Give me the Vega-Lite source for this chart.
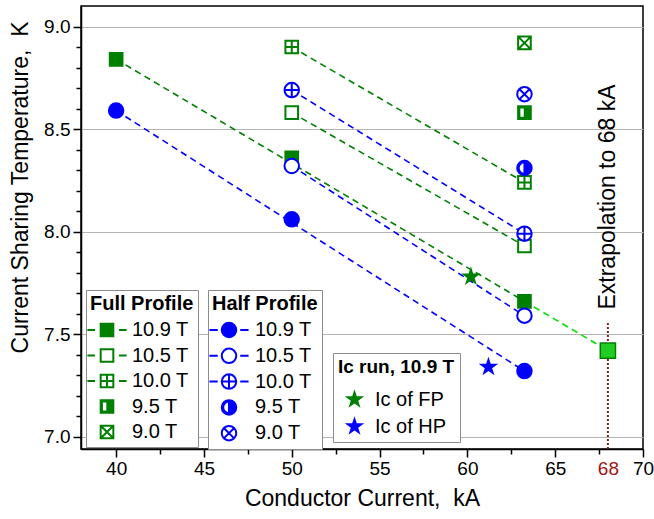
{
  "$schema": "https://vega.github.io/schema/vega-lite/v6.json",
  "width": 562,
  "height": 443,
  "autosize": {"type": "none"},
  "padding": {"left": 81, "top": 6, "right": 11, "bottom": 70},
  "config": {
    "font": "Liberation Sans",
    "view": {"stroke": "black", "strokeWidth": 1.5},
    "axis": {"labelFont": "Liberation Sans", "titleFont": "Liberation Sans", "labelColor": "black", "titleColor": "black", "titleFontWeight": "normal"},
    "legend": {"labelFont": "Liberation Sans", "titleFont": "Liberation Sans"}
  },
  "datasets": {
    "pts": [
      {"I": 40, "T": 8.84, "prof": "FP", "B": "10.9 T"},
      {"I": 50, "T": 8.36, "prof": "FP", "B": "10.9 T"},
      {"I": 63.25, "T": 7.66, "prof": "FP", "B": "10.9 T"},
      {"I": 50, "T": 8.58, "prof": "FP", "B": "10.5 T"},
      {"I": 63.25, "T": 7.93, "prof": "FP", "B": "10.5 T"},
      {"I": 50, "T": 8.9, "prof": "FP", "B": "10.0 T"},
      {"I": 63.25, "T": 8.24, "prof": "FP", "B": "10.0 T"},
      {"I": 63.25, "T": 8.58, "prof": "FP", "B": "9.5 T"},
      {"I": 63.25, "T": 8.92, "prof": "FP", "B": "9.0 T"},
      {"I": 40, "T": 8.59, "prof": "HP", "B": "10.9 T"},
      {"I": 50, "T": 8.06, "prof": "HP", "B": "10.9 T"},
      {"I": 63.25, "T": 7.32, "prof": "HP", "B": "10.9 T"},
      {"I": 50, "T": 8.32, "prof": "HP", "B": "10.5 T"},
      {"I": 63.25, "T": 7.59, "prof": "HP", "B": "10.5 T"},
      {"I": 50, "T": 8.69, "prof": "HP", "B": "10.0 T"},
      {"I": 63.25, "T": 7.99, "prof": "HP", "B": "10.0 T"},
      {"I": 63.25, "T": 8.31, "prof": "HP", "B": "9.5 T"},
      {"I": 63.25, "T": 8.67, "prof": "HP", "B": "9.0 T"}
    ],
    "fits": [
      {"I": 40, "T": 8.84, "line": "FP 10.9", "grp": "FP"},
      {"I": 63.25, "T": 7.66, "line": "FP 10.9", "grp": "FP"},
      {"I": 63.25, "T": 7.66, "line": "Extrapolation", "grp": "EX"},
      {"I": 68, "T": 7.42, "line": "Extrapolation", "grp": "EX"},
      {"I": 50, "T": 8.58, "line": "FP 10.5", "grp": "FP"},
      {"I": 63.25, "T": 7.93, "line": "FP 10.5", "grp": "FP"},
      {"I": 50, "T": 8.9, "line": "FP 10.0", "grp": "FP"},
      {"I": 63.25, "T": 8.24, "line": "FP 10.0", "grp": "FP"},
      {"I": 40, "T": 8.59, "line": "HP 10.9", "grp": "HP"},
      {"I": 63.25, "T": 7.32, "line": "HP 10.9", "grp": "HP"},
      {"I": 50, "T": 8.32, "line": "HP 10.5", "grp": "HP"},
      {"I": 63.25, "T": 7.59, "line": "HP 10.5", "grp": "HP"},
      {"I": 50, "T": 8.69, "line": "HP 10.0", "grp": "HP"},
      {"I": 63.25, "T": 7.99, "line": "HP 10.0", "grp": "HP"}
    ],
    "extrap": [{"I": 68, "T": 7.42}],
    "ic": [
      {"I": 60.2, "T": 7.78, "run": "Ic of FP"},
      {"I": 61.2, "T": 7.34, "run": "Ic of HP"}
    ],
    "marker": [{"I": 68, "T": 6.94, "Thi": 7.56, "Ttext": 7.62, "label": "Extrapolation to 68 kA"}]
  },
  "encoding": {
    "x": {"field": "I", "type": "quantitative", "scale": {"domain": [38, 70], "nice": false, "zero": false},
      "axis": {
        "orient": "bottom",
        "values": [40, 42.5, 45, 47.5, 50, 52.5, 55, 57.5, 60, 62.5, 65, 67.5, 68, 70],
        "format": "d",
        "labelExpr": "(datum.value % 5 == 0 || datum.value == 68) ? datum.label : ''",
        "labelColor": {"condition": {"test": "datum.value == 68", "value": "#a01414"}, "value": "black"},
        "tickOpacity": {"condition": {"test": "datum.value == 68", "value": 0}, "value": 1},
        "tickSize": {"condition": {"test": "datum && (datum.value % 5 == 0 || datum.value == 68)", "value": 8}, "value": 5},
        "tickColor": "black", "tickWidth": 1.5, "domainColor": "black", "domainWidth": 1.5,
        "grid": false, "labelFlush": false, "labelOverlap": false,
        "labelFontSize": 19, "labelPadding": 2,
        "title": "Conductor Current,\u00a0 kA", "titleFontSize": 23, "titlePadding": 9
      }},
    "y": {"field": "T", "type": "quantitative", "scale": {"domain": [6.94, 9.1], "nice": false, "zero": false},
      "axis": {
        "orient": "left",
        "values": [7, 7.1, 7.2, 7.3, 7.4, 7.5, 7.6, 7.7, 7.8, 7.9, 8, 8.1, 8.2, 8.3, 8.4, 8.5, 8.6, 8.7, 8.8, 8.9, 9],
        "format": ".1f",
        "labelExpr": "abs(datum.value*2 - round(datum.value*2)) < 0.01 ? datum.label : ''",
        "tickSize": {"condition": {"test": "datum && abs(datum.value*2 - round(datum.value*2)) < 0.01", "value": 8}, "value": 5},
        "tickColor": "black", "tickWidth": 1.5, "domainColor": "black", "domainWidth": 1.5,
        "grid": true, "gridColor": "#b4b4b4", "gridWidth": 1.2,
        "gridOpacity": {"condition": {"test": "abs(datum.value*2 - round(datum.value*2)) < 0.01", "value": 1}, "value": 0},
        "labelFontSize": 19, "labelPadding": 3, "labelOverlap": false,
        "title": "Current Sharing Temperature,\u00a0 K", "titleFontSize": 23,
        "titleX": -49, "titleY": 181, "titleAngle": 270, "titleBaseline": "bottom", "titleAlign": "center"
      }}
  },
  "layer": [
    {
      "data": {"name": "fits"},
      "mark": {"type": "line", "strokeDash": [6.5, 4.5], "strokeWidth": 1.6},
      "encoding": {
        "detail": {"field": "line", "type": "nominal"},
        "color": {"field": "grp", "type": "nominal", "scale": {"domain": ["FP", "HP", "EX"], "range": ["#008000", "#0000ff", "#00e000"]}, "legend": null}
      }
    },
    {
      "data": {"name": "marker"},
      "mark": {"type": "rule", "color": "#8b1a1a", "strokeDash": [2, 2], "strokeWidth": 2},
      "encoding": {
        "y2": {"field": "Thi"}
      }
    },
    {
      "data": {"name": "marker"},
      "mark": {"type": "text", "angle": 270, "align": "left", "baseline": "middle", "fontSize": 23, "color": "black"},
      "encoding": {
        "y": {"field": "Ttext", "type": "quantitative"},
        "text": {"field": "label"}
      }
    },
    {
      "data": {"name": "pts"},
      "transform": [{"filter": "datum.prof == 'FP'"}],
      "mark": {"type": "point", "stroke": "#008000", "strokeWidth": 2, "size": 160, "opacity": 1},
      "encoding": {
        "shape": {"field": "B", "type": "nominal", "legend": null, "scale": {
          "domain": ["10.9 T", "10.5 T", "10.0 T", "9.5 T", "9.0 T"],
          "range": [
            "M-1,-1H1V1H-1Z",
            "M-1,-1H1V1H-1Z",
            "M-1,-1H1V1H-1Z M0,-1V1 M-1,0H1",
            "M-1,-1H1V1H-1Z M-0.8,-0.8V0.8H0.05V-0.8Z",
            "M-1,-1H1V1H-1Z M-1,-1L1,1 M-1,1L1,-1"
          ]}},
        "fill": {"field": "B", "type": "nominal", "legend": null, "scale": {
          "domain": ["10.9 T", "10.5 T", "10.0 T", "9.5 T", "9.0 T"],
          "range": ["#008000", "white", "white", "#008000", "white"]}}
      }
    },
    {
      "data": {"name": "pts"},
      "transform": [{"filter": "datum.prof == 'HP'"}],
      "mark": {"type": "point", "stroke": "#0000ff", "strokeWidth": 2, "size": 210, "opacity": 1},
      "encoding": {
        "shape": {"field": "B", "type": "nominal", "legend": null, "scale": {
          "domain": ["10.9 T", "10.5 T", "10.0 T", "9.5 T", "9.0 T"],
          "range": [
            "M0,-1A1,1 0 0,1 0,1A1,1 0 0,1 0,-1Z",
            "M0,-1A1,1 0 0,1 0,1A1,1 0 0,1 0,-1Z",
            "M0,-1A1,1 0 0,1 0,1A1,1 0 0,1 0,-1Z M0,-1V1 M-1,0H1",
            "M0,-1A1,1 0 0,1 0,1A1,1 0 0,1 0,-1Z M0,-0.8A0.8,0.8 0 0,0 0,0.8Z",
            "M0,-1A1,1 0 0,1 0,1A1,1 0 0,1 0,-1Z M-0.71,-0.71L0.71,0.71 M-0.71,0.71L0.71,-0.71"
          ]}},
        "fill": {"field": "B", "type": "nominal", "legend": null, "scale": {
          "domain": ["10.9 T", "10.5 T", "10.0 T", "9.5 T", "9.0 T"],
          "range": ["#0000ff", "white", "white", "#0000ff", "white"]}}
      }
    },
    {
      "data": {"name": "extrap"},
      "mark": {"type": "point", "shape": "M-1,-1H1V1H-1Z", "size": 230, "fill": "#22cc22", "stroke": "#008000", "strokeWidth": 1.5, "opacity": 1}
    },
    {
      "data": {"name": "ic"},
      "mark": {"type": "point", "filled": true, "size": 420, "opacity": 1, "shape": "M0,-1L0.225,-0.309L0.951,-0.309L0.363,0.118L0.588,0.809L0,0.382L-0.588,0.809L-0.363,0.118L-0.951,-0.309L-0.225,-0.309Z"},
      "encoding": {
        "fill": {"field": "run", "type": "nominal",
          "scale": {"domain": ["Ic of FP", "Ic of HP"], "range": ["#008000", "#0000ff"]},
          "legend": {
            "title": "Ic run, 10.9 T", "orient": "none", "legendX": 252, "legendY": 347,
            "padding": 5, "fillColor": "white", "strokeColor": "#8c8c8c",
            "titleFontSize": 19, "titleFontWeight": "bold", "titleColor": "black", "titlePadding": 12,
            "labelFontSize": 20, "labelColor": "black",
            "symbolType": "M0,-1L0.225,-0.309L0.951,-0.309L0.363,0.118L0.588,0.809L0,0.382L-0.588,0.809L-0.363,0.118L-0.951,-0.309L-0.225,-0.309Z",
            "symbolSize": 420, "symbolStrokeWidth": 0, "symbolOffset": 6, "labelOffset": 10, "rowPadding": 6
          }}
      }
    },
    {
      "data": {"name": "pts"},
      "transform": [{"filter": "false"}],
      "mark": {"type": "point", "stroke": "#008000", "strokeWidth": 2, "size": 160, "opacity": 1},
      "encoding": {
        "fill": {"field": "B", "type": "nominal",
          "scale": {"domain": ["10.9 T", "10.5 T", "10.0 T", "9.5 T", "9.0 T"], "range": ["#008000", "white", "white", "#008000", "white"]},
          "legend": {
            "title": "Full Profile", "orient": "none", "legendX": 5, "legendY": 284,
            "padding": 4, "fillColor": "white", "strokeColor": "#8c8c8c",
            "titleFontSize": 20, "titleFontWeight": "bold", "titleColor": "black", "titlePadding": 6,
            "labelFontSize": 20, "labelColor": "black",
            "symbolSize": 160, "symbolStrokeWidth": 2, "symbolFillColor": "white", "symbolStrokeColor": "#008000",
            "symbolOffset": 7, "labelOffset": 15, "rowPadding": 3.5
          }},
        "shape": {"field": "B", "type": "nominal",
          "scale": {"domain": ["10.9 T", "10.5 T", "10.0 T", "9.5 T", "9.0 T"],
            "range": [
              "M-1,-1H1V1H-1Z M-3.1,0H-1.9 M1.9,0H3.1",
              "M-1,-1H1V1H-1Z M-3.1,0H-1.9 M1.9,0H3.1",
              "M-1,-1H1V1H-1Z M0,-1V1 M-1,0H1 M-3.1,0H-1.9 M1.9,0H3.1",
              "M-1,-1H1V1H-1Z M-0.8,-0.8V0.8H0.05V-0.8Z",
              "M-1,-1H1V1H-1Z M-1,-1L1,1 M-1,1L1,-1"
            ]},
          "legend": {
            "title": "Full Profile", "orient": "none", "legendX": 5, "legendY": 284,
            "padding": 4, "fillColor": "white", "strokeColor": "#8c8c8c",
            "titleFontSize": 20, "titleFontWeight": "bold", "titleColor": "black", "titlePadding": 6,
            "labelFontSize": 20, "labelColor": "black",
            "symbolSize": 160, "symbolStrokeWidth": 2, "symbolFillColor": "white", "symbolStrokeColor": "#008000",
            "symbolOffset": 7, "labelOffset": 15, "rowPadding": 3.5
          }}
      }
    },
    {
      "data": {"name": "pts"},
      "transform": [{"filter": "false"}],
      "mark": {"type": "point", "stroke": "#0000ff", "strokeWidth": 2, "size": 210, "opacity": 1},
      "encoding": {
        "fill": {"field": "B", "type": "nominal",
          "scale": {"domain": ["10.9 T", "10.5 T", "10.0 T", "9.5 T", "9.0 T"], "range": ["#0000ff", "white", "white", "#0000ff", "white"]},
          "legend": {
            "title": "Half Profile", "orient": "none", "legendX": 127, "legendY": 284,
            "padding": 4, "fillColor": "white", "strokeColor": "#8c8c8c",
            "titleFontSize": 20, "titleFontWeight": "bold", "titleColor": "black", "titlePadding": 6,
            "labelFontSize": 20, "labelColor": "black",
            "symbolSize": 210, "symbolStrokeWidth": 2, "symbolFillColor": "white", "symbolStrokeColor": "#0000ff",
            "symbolOffset": 7, "labelOffset": 16, "rowPadding": 1.8
          }},
        "shape": {"field": "B", "type": "nominal",
          "scale": {"domain": ["10.9 T", "10.5 T", "10.0 T", "9.5 T", "9.0 T"],
            "range": [
              "M0,-1A1,1 0 0,1 0,1A1,1 0 0,1 0,-1Z M-2.7,0H-1.55 M1.55,0H2.7",
              "M0,-1A1,1 0 0,1 0,1A1,1 0 0,1 0,-1Z M-2.7,0H-1.55 M1.55,0H2.7",
              "M0,-1A1,1 0 0,1 0,1A1,1 0 0,1 0,-1Z M0,-1V1 M-1,0H1 M-2.7,0H-1.55 M1.55,0H2.7",
              "M0,-1A1,1 0 0,1 0,1A1,1 0 0,1 0,-1Z M0,-0.8A0.8,0.8 0 0,0 0,0.8Z",
              "M0,-1A1,1 0 0,1 0,1A1,1 0 0,1 0,-1Z M-0.71,-0.71L0.71,0.71 M-0.71,0.71L0.71,-0.71"
            ]},
          "legend": {
            "title": "Half Profile", "orient": "none", "legendX": 127, "legendY": 284,
            "padding": 4, "fillColor": "white", "strokeColor": "#8c8c8c",
            "titleFontSize": 20, "titleFontWeight": "bold", "titleColor": "black", "titlePadding": 6,
            "labelFontSize": 20, "labelColor": "black",
            "symbolSize": 210, "symbolStrokeWidth": 2, "symbolFillColor": "white", "symbolStrokeColor": "#0000ff",
            "symbolOffset": 7, "labelOffset": 16, "rowPadding": 1.8
          }}
      }
    }
  ],
  "resolve": {
    "scale": {"fill": "independent", "shape": "independent", "color": "independent"}
  }
}
